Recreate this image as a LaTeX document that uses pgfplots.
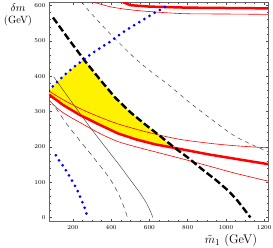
\documentclass[border=0pt]{standalone}
\usepackage{pgfplots}
\pgfplotsset{compat=1.18}
\begin{document}
\begin{tikzpicture}
\useasboundingbox (-49pt,-26pt) rectangle (224pt,221pt);
\begin{axis}[
  scale only axis, width=219pt, height=219pt,
  at={(0,0)}, anchor=south west,
  xmin=75, xmax=1220, ymin=-10, ymax=610,
  xtick={200,400,...,1200}, ytick={0,100,...,600},
  minor x tick num=3, minor y tick num=4,
  tick align=inside,
  major tick length=2.5pt, minor tick length=1.5pt,
  tick style={line width=0.4pt, black!70},
  axis line style={line width=0.5pt, black!60},
  tick label style={font=\fontsize{6.5}{7}\selectfont},
  /pgf/number format/1000 sep={},
  xticklabel style={yshift=-1pt},
  clip=true,
]
% yellow region
\addplot[fill=yellow, draw=none] coordinates {
 (75,358) (96,372) (130,390) (170,410) (210,428) (258,447)
 (263,443) (350,385) (420,340) (500,298) (581,262) (650,233) (730,197)
 (630,207) (530,221) (435,238) (330,265) (237,290) (150,318) (100,338) (75,348)
} -- cycle;
% thin black solid
\addplot[black!80, line width=0.4pt, smooth] coordinates {
 (100,398) (200,322) (300,248) (380,192) (450,143) (505,103) (550,70) (585,40) (607,15) (618,0)
};
% lower thin dashed
\addplot[black!80, line width=0.45pt, dash pattern=on 5pt off 4pt, smooth] coordinates {
 (110,310) (170,263) (240,215) (306,171) (393,110) (440,65) (470,25) (485,0)
};
% upper thin dashed
\addplot[black!80, line width=0.45pt, dash pattern=on 4pt off 4pt, smooth] coordinates {
 (245,610) (300,575) (377,530) (450,490) (530,448) (620,408) (701,375) (800,330) (910,284) (1051,229) (1220,186)
};
% thin red lines
\addplot[red, line width=0.6pt, smooth] coordinates {
 (75,358) (150,333) (250,305) (350,282) (435,265) (530,250) (600,240) (750,222) (915,210) (1050,203) (1220,197)
};
\addplot[red, line width=0.6pt, smooth] coordinates {
 (75,333) (100,318) (140,300) (190,283) (240,268) (340,238) (435,215) (530,200) (650,183) (800,162) (915,145) (1050,125) (1220,103)
};
\addplot[red, line width=0.6pt, smooth] coordinates {
 (305,610) (400,596) (500,588) (600,583) (780,577) (1000,576) (1220,575)
};
% thick red lines
\addplot[red, line width=2.5pt] coordinates {
 (75,348) (100,338) (150,318) (237,290) (330,265) (435,238) (530,221) (630,207) (730,197) (915,178) (1050,166) (1220,151)
};
\addplot[red, line width=2.5pt] coordinates {
 (461,610) (500,601) (600,597) (800,594) (1000,593) (1220,592)
};
% thick black dashed
\addplot[black, line width=2.4pt, dash pattern=on 7pt off 3pt] coordinates {
 (96,566) (180,503) (263,443) (350,385) (420,340) (500,298) (581,262) (650,233) (730,198) (800,170) (879,135) (950,105) (1014,75) (1060,48) (1103,18) (1128,0)
};
% blue dotted
\addplot[blue, line width=3pt, line cap=round, dash pattern=on 0pt off 6pt] coordinates {
 (75,358) (96,372) (130,390) (170,410) (210,428) (258,447) (300,465) (393,497) (450,520) (513,542) (560,557) (618,577) (660,589) (700,602)
};
\addplot[blue, line width=3pt, line cap=round, dash pattern=on 0pt off 6pt] coordinates {
 (111,176) (132,158) (155,141) (175,123) (196,104) (216,85) (233,65) (249,44) (263,25) (275,4)
};
\end{axis}
\node[font=\fontsize{10.5}{12}\selectfont] at (-31pt,213pt) {$\delta m$};
\node[font=\fontsize{10.5}{12}\selectfont] at (-31pt,200pt) {(GeV)};
\node[font=\fontsize{12.5}{13}\selectfont, inner sep=0pt] at (182pt,-19.5pt) {$\tilde m_1$ (GeV)};
\end{tikzpicture}
\end{document}
